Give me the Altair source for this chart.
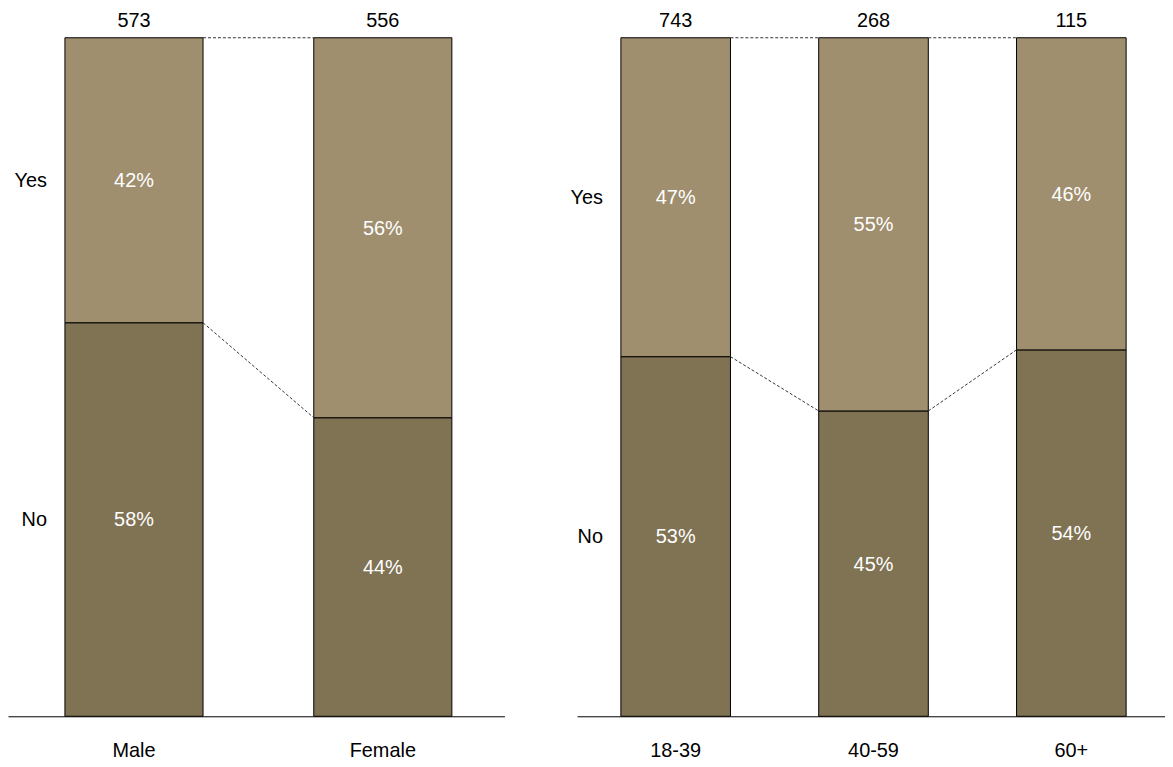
import altair as alt
import pandas as pd

gender_cats = ["Male", "Female"]
gender_counts = [573, 556]
gender_no = [58, 44]
gender_yes = [42, 56]

age_cats = ["18-39", "40-59", "60+"]
age_counts = [743, 268, 115]
age_no = [53, 45, 54]
age_yes = [47, 55, 46]

responses = ["No", "Yes"]
colors = ["#7F7354", "#A08F6F"]

FONT = "Liberation Sans"
FS = 20
H = 710
YMAX = 1.041


def panel(cats, counts, no, yes, width, pad_inner, pad_outer, align):
    rows = []
    for c, n_, y_ in zip(cats, no, yes):
        rows.append(dict(cat=c, resp="No", start=0.0, end=n_ / 100, pct=f"{n_}%"))
        rows.append(dict(cat=c, resp="Yes", start=n_ / 100, end=(n_ + y_) / 100, pct=f"{y_}%"))
    seg = pd.DataFrame(rows)
    seg["mid"] = (seg["start"] + seg["end"]) / 2
    tot = pd.DataFrame(dict(cat=cats, n=counts, top=[1.0] * len(cats)))
    conn_rows = []
    for i in range(len(cats) - 1):
        conn_rows.append(dict(cat=cats[i], nxt=cats[i + 1], ya=1.0, yb=1.0))
        conn_rows.append(dict(cat=cats[i], nxt=cats[i + 1], ya=no[i] / 100, yb=no[i + 1] / 100))
    conn = pd.DataFrame(conn_rows)

    xscale = alt.Scale(domain=cats, paddingInner=pad_inner, paddingOuter=pad_outer, align=align)
    yscale = alt.Scale(domain=[0, YMAX], nice=False, zero=False)
    xaxis = alt.Axis(domain=True, domainColor="black", domainWidth=1, ticks=False,
                     labelFontSize=FS, labelFont=FONT, labelColor="black", labelPadding=24,
                     labelAngle=0, labelBaseline="top", grid=False, title=None)

    def X(**kw):
        return alt.X("cat:N", scale=xscale, axis=xaxis, title=None, **kw)

    def Y(f):
        return alt.Y(f"{f}:Q", scale=yscale, axis=None)

    bars = alt.Chart(seg).mark_bar(stroke="black", strokeWidth=1).encode(
        x=X(), y=Y("start"), y2=alt.Y2("end:Q"),
        color=alt.Color("resp:N", scale=alt.Scale(domain=responses, range=colors), legend=None),
    )
    pct = alt.Chart(seg).mark_text(color="white", fontSize=FS, font=FONT, baseline="middle", dy=1).encode(
        x=X(), y=Y("mid"), text="pct:N"
    )
    cnt = alt.Chart(tot).mark_text(color="black", fontSize=FS, font=FONT, baseline="middle", dy=-17).encode(
        x=X(), y=Y("top"), text="n:Q"
    )
    side = alt.Chart(seg[seg["cat"] == cats[0]]).mark_text(
        color="black", fontSize=FS, font=FONT, baseline="middle", align="right", dx=-18, dy=1
    ).encode(x=X(bandPosition=0), y=Y("mid"), text="resp:N")
    rules = alt.Chart(conn).mark_rule(strokeDash=[3, 2], color="#333333", strokeWidth=1).encode(
        x=X(bandPosition=1), x2=alt.X2("nxt:N", bandPosition=0), y=Y("ya"), y2=alt.Y2("yb:Q")
    )
    return alt.layer(bars, rules, pct, cnt, side).properties(width=width, height=H)


left = panel(gender_cats, gender_counts, gender_no, gender_yes, 499, 0.445, 0.22, 0.52)
right = panel(age_cats, age_counts, age_no, age_yes, 591, 0.446, 0.209, 0.53)

chart = alt.hconcat(left, right, spacing=66).properties(padding=0).configure_view(stroke=None)

chart.save("out.html", embed_options={"renderer": "svg", "actions": False})
